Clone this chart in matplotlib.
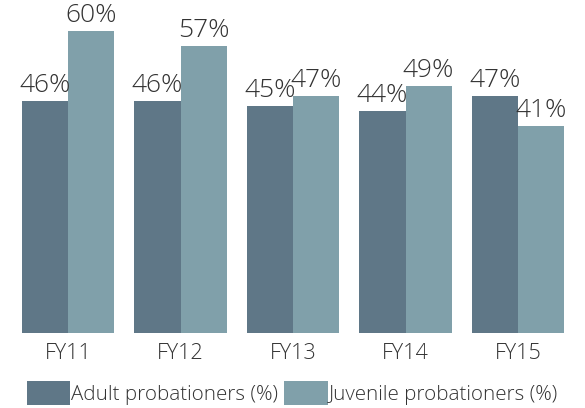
import matplotlib.pyplot as plt
import numpy as np

years = ['FY11', 'FY12', 'FY13', 'FY14', 'FY15']
adult = [46, 46, 45, 44, 47]
juvenile = [60, 57, 47, 49, 41]

adult_color = '#5f7787'
juv_color = '#80a0aa'
text_color = '#333333'

plt.rcParams['font.family'] = ['Open Sans', 'DejaVu Sans']
plt.rcParams['font.weight'] = 'light'

fig = plt.figure(figsize=(5.85, 4.08), dpi=100)
# axes placed in pixel terms: 0% sits at y=333, 5.04 px per percent
W, H = 585, 408
left, right = 11.75, 574.25
bottom, top = H - 333, H - 333 + 65 * 5.04
ax = fig.add_axes([left / W, bottom / H, (right - left) / W, (top - bottom) / H])

x = np.arange(len(years))
w = 0.41
b1 = ax.bar(x - w / 2, adult, w, color=adult_color, label='Adult probationers (%)')
b2 = ax.bar(x + w / 2, juvenile, w, color=juv_color, label='Juvenile probationers (%)')

for bars, vals in ((b1, adult), (b2, juvenile)):
    for r, v in zip(bars, vals):
        ax.annotate(f'{v}%', (r.get_x() + r.get_width() / 2, v),
                    xytext=(0, 6.5), textcoords='offset points',
                    ha='center', va='baseline', fontsize=19,
                    fontweight='light', color=text_color)

ax.set_xlim(-0.5, 4.5)
ax.set_ylim(0, 65)
ax.set_xticks(x)
ax.set_xticklabels(years, fontsize=15.5, fontweight='light', color=text_color)
ax.tick_params(axis='x', length=0, pad=7)
ax.set_yticks([])
for s in ax.spines.values():
    s.set_visible(False)

leg = fig.legend(loc='upper left', bbox_to_anchor=(27 / W, 1 - 381 / H), ncol=2,
                 frameon=False, handlelength=2.1, handleheight=1.45,
                 handletextpad=0.05, columnspacing=0.3, borderaxespad=0,
                 borderpad=0, prop={'weight': 'light', 'size': 14.8})
for t in leg.get_texts():
    t.set_color(text_color)

fig.savefig('out.png', dpi=100)
